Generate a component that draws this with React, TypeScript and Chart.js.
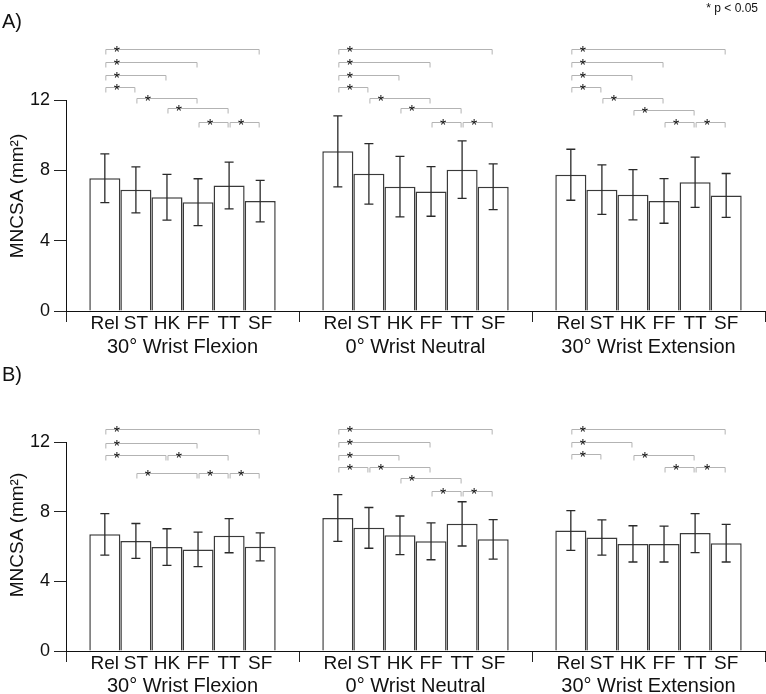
import React, { useEffect, useRef } from "react";
import { Chart, registerables } from "chart.js";

Chart.register(...registerables);

const FONT = "'Liberation Sans', Arial, sans-serif";

const groups = ["30° Wrist Flexion", "0° Wrist Neutral", "30° Wrist Extension"];
const tasks = ["Rel", "ST", "HK", "FF", "TT", "SF"];
const yTicks = [0, 4, 8, 12];

// Panel A means / SD (per group, ordered as tasks)
const aFlexMean = [7.55, 6.89, 6.47, 6.19, 7.14, 6.25];
const aFlexSD = [1.39, 1.31, 1.3, 1.33, 1.33, 1.18];
const aNeutMean = [9.08, 7.8, 7.07, 6.8, 8.04, 7.07];
const aNeutSD = [2.02, 1.72, 1.72, 1.41, 1.64, 1.3];
const aExtMean = [7.75, 6.9, 6.61, 6.26, 7.32, 6.57];
const aExtSD = [1.45, 1.41, 1.43, 1.27, 1.43, 1.25];

// Panel B means / SD
const bFlexMean = [6.7, 6.32, 5.97, 5.83, 6.62, 5.98];
const bFlexSD = [1.19, 1.0, 1.05, 0.99, 0.98, 0.8];
const bNeutMean = [7.64, 7.07, 6.64, 6.3, 7.3, 6.41];
const bNeutSD = [1.34, 1.17, 1.11, 1.06, 1.27, 1.13];
const bExtMean = [6.92, 6.52, 6.15, 6.14, 6.77, 6.19];
const bExtSD = [1.14, 1.01, 1.04, 1.03, 1.12, 1.08];

// Significance brackets: [fromTask, toTask, level]
const aFlexSig = [[0, 5, 14.89], [0, 3, 14.16], [0, 2, 13.4], [0, 1, 12.76], [1, 3, 12.13], [2, 4, 11.53], [3, 4, 10.76], [4, 5, 10.76]];
const aNeutSig = [[0, 5, 14.89], [0, 3, 14.16], [0, 2, 13.4], [0, 1, 12.76], [1, 3, 12.13], [2, 4, 11.53], [3, 4, 10.76], [4, 5, 10.76]];
const aExtSig = [[0, 5, 14.89], [0, 3, 14.16], [0, 2, 13.4], [0, 1, 12.76], [1, 3, 12.13], [2, 4, 11.41], [3, 4, 10.76], [4, 5, 10.76]];

const bFlexSig = [[0, 5, 12.73], [0, 3, 11.96], [0, 2, 11.27], [2, 4, 11.27], [1, 3, 10.2], [3, 4, 10.2], [4, 5, 10.2]];
const bNeutSig = [[0, 5, 12.73], [0, 3, 11.98], [0, 2, 11.25], [0, 1, 10.58], [1, 3, 10.58], [2, 4, 9.95], [3, 4, 9.2], [4, 5, 9.2]];
const bExtSig = [[0, 5, 12.73], [0, 2, 11.98], [0, 1, 11.33], [2, 4, 11.27], [3, 4, 10.58], [4, 5, 10.58]];

type PanelProps = {
  letter: string;
  means: number[][];
  sds: number[][];
  sigs: number[][][];
  width: number;
  height: number;
  top: number;
  areaTop: number;
  areaBottom: number;
  labelPad: number;
  titleY: number;
  letterY: number;
  showP: boolean;
};

const overlayPlugin = {
  id: "overlay",
  afterDraw(chart: any, _args: any, opts: any) {
    const ctx = chart.ctx as CanvasRenderingContext2D;
    const ys = chart.scales.y;
    const area = chart.chartArea;
    ctx.save();

    // error bars
    const nDs = chart.data.datasets.length;
    for (let di = 0; di < nDs; di++) {
      const meta = chart.getDatasetMeta(di);
      meta.data.forEach((bar: any, gi: number) => {
        const m = chart.data.datasets[di].data[gi];
        const sd = opts.sds[gi][di];
        const yt = ys.getPixelForValue(m + sd);
        const yb = ys.getPixelForValue(m - sd);
        ctx.strokeStyle = "#2a2a2a";
        ctx.lineWidth = 1.3;
        ctx.beginPath();
        ctx.moveTo(bar.x, yt);
        ctx.lineTo(bar.x, yb);
        ctx.moveTo(bar.x - 4.5, yt);
        ctx.lineTo(bar.x + 4.5, yt);
        ctx.moveTo(bar.x - 4.5, yb);
        ctx.lineTo(bar.x + 4.5, yb);
        ctx.stroke();
      });
    }

    // sub labels (tasks) under each bar
    ctx.fillStyle = "#111";
    ctx.font = `19px ${FONT}`;
    ctx.textAlign = "center";
    ctx.textBaseline = "middle";
    for (let di = 0; di < nDs; di++) {
      const meta = chart.getDatasetMeta(di);
      meta.data.forEach((bar: any) => {
        ctx.fillText(tasks[di], bar.x, area.bottom + 12.5);
      });
    }

    // significance brackets
    opts.sigs.forEach((list: number[][], gi: number) => {
      list.forEach(([a, b, lvl]) => {
        const xa = chart.getDatasetMeta(a).data[gi].x + 1;
        const xb = chart.getDatasetMeta(b).data[gi].x - 1;
        const yy = Math.round(ys.getPixelForValue(lvl)) + 0.5;
        ctx.strokeStyle = "#b3b3b3";
        ctx.lineWidth = 1;
        ctx.beginPath();
        ctx.moveTo(xa, yy + 5);
        ctx.lineTo(xa, yy);
        ctx.lineTo(xb, yy);
        ctx.lineTo(xb, yy + 5);
        ctx.stroke();
        ctx.fillStyle = "#111";
        ctx.font = `16px ${FONT}`;
        ctx.textAlign = "center";
        ctx.textBaseline = "alphabetic";
        ctx.fillText("*", xa + 11, yy + 8);
      });
    });

    // y title
    ctx.save();
    ctx.translate(18, opts.titleY);
    ctx.rotate(-Math.PI / 2);
    ctx.fillStyle = "#111";
    ctx.font = `19px ${FONT}`;
    ctx.textAlign = "center";
    ctx.textBaseline = "middle";
    ctx.fillText("MNCSA (mm²)", 0, 0);
    ctx.restore();

    // panel letter
    ctx.fillStyle = "#111";
    ctx.font = `20px ${FONT}`;
    ctx.textAlign = "left";
    ctx.textBaseline = "middle";
    ctx.fillText(opts.letter, 2, opts.letterY);

    if (opts.showP) {
      ctx.font = `12px ${FONT}`;
      ctx.textAlign = "right";
      ctx.textBaseline = "middle";
      ctx.fillText("* p < 0.05", 758, 9);
    }
    ctx.restore();
  },
};

function Panel(p: PanelProps) {
  const ref = useRef<HTMLCanvasElement | null>(null);
  useEffect(() => {
    if (!ref.current) return;
    const datasets = tasks.map((t, ti) => ({
      label: t,
      data: p.means.map((g) => g[ti]),
      backgroundColor: "#ffffff",
      borderColor: "#3a3a3a",
      borderWidth: 1.5,
      borderSkipped: "start" as const,
      categoryPercentage: 0.8,
      barPercentage: 1.0,
    }));
    const xHeight = p.height - p.areaBottom;
    const chart = new Chart(ref.current, {
      type: "bar",
      data: { labels: groups, datasets },
      options: {
        responsive: false,
        animation: false,
        devicePixelRatio: 1,
        layout: { padding: { top: p.areaTop, left: 0, right: 1, bottom: 0 } },
        plugins: {
          legend: { display: false },
          tooltip: { enabled: false },
          overlay: {
            sds: p.sds,
            sigs: p.sigs,
            titleY: p.titleY,
            letter: p.letter,
            letterY: p.letterY,
            showP: p.showP,
          },
        } as any,
        scales: {
          x: {
            type: "category",
            offset: true,
            grid: {
              display: true,
              drawOnChartArea: false,
              drawTicks: true,
              tickLength: 11,
              offset: true,
              color: "#222",
              lineWidth: 1,
            },
            border: { display: true, color: "#111", width: 1 },
            ticks: {
              font: { family: FONT, size: 20 },
              color: "#111",
              padding: p.labelPad,
              maxRotation: 0,
              autoSkip: false,
            },
            afterFit: (s: any) => {
              s.height = xHeight;
            },
          },
          y: {
            type: "linear",
            min: 0,
            max: 12,
            afterBuildTicks: (s: any) => {
              s.ticks = yTicks.map((v) => ({ value: v }));
            },
            grid: {
              display: true,
              drawOnChartArea: false,
              drawTicks: true,
              tickLength: 12,
              color: "#222",
            },
            border: { display: true, color: "#111", width: 1 },
            ticks: {
              font: { family: FONT, size: 18 },
              color: "#111",
              padding: 4,
            },
            afterFit: (s: any) => {
              s.width = 66;
            },
          },
        },
      },
      plugins: [overlayPlugin],
    });
    return () => chart.destroy();
  }, []);
  return (
    <canvas
      ref={ref}
      width={p.width}
      height={p.height}
      style={{ position: "absolute", left: 0, top: p.top, width: p.width, height: p.height }}
    />
  );
}

export default function App() {
  return (
    <div style={{ position: "absolute", left: 0, top: 0, width: 766, height: 694, background: "#fff" }}>
      <Panel
        letter="A)"
        means={[aFlexMean, aNeutMean, aExtMean]}
        sds={[aFlexSD, aNeutSD, aExtSD]}
        sigs={[aFlexSig, aNeutSig, aExtSig]}
        width={766}
        height={362}
        top={0}
        areaTop={100}
        areaBottom={311}
        labelPad={13}
        titleY={196}
        letterY={22}
        showP={true}
      />
      <Panel
        letter="B)"
        means={[bFlexMean, bNeutMean, bExtMean]}
        sds={[bFlexSD, bNeutSD, bExtSD]}
        sigs={[bFlexSig, bNeutSig, bExtSig]}
        width={766}
        height={332}
        top={362}
        areaTop={80}
        areaBottom={289}
        labelPad={12}
        titleY={173}
        letterY={13}
        showP={false}
      />
    </div>
  );
}
